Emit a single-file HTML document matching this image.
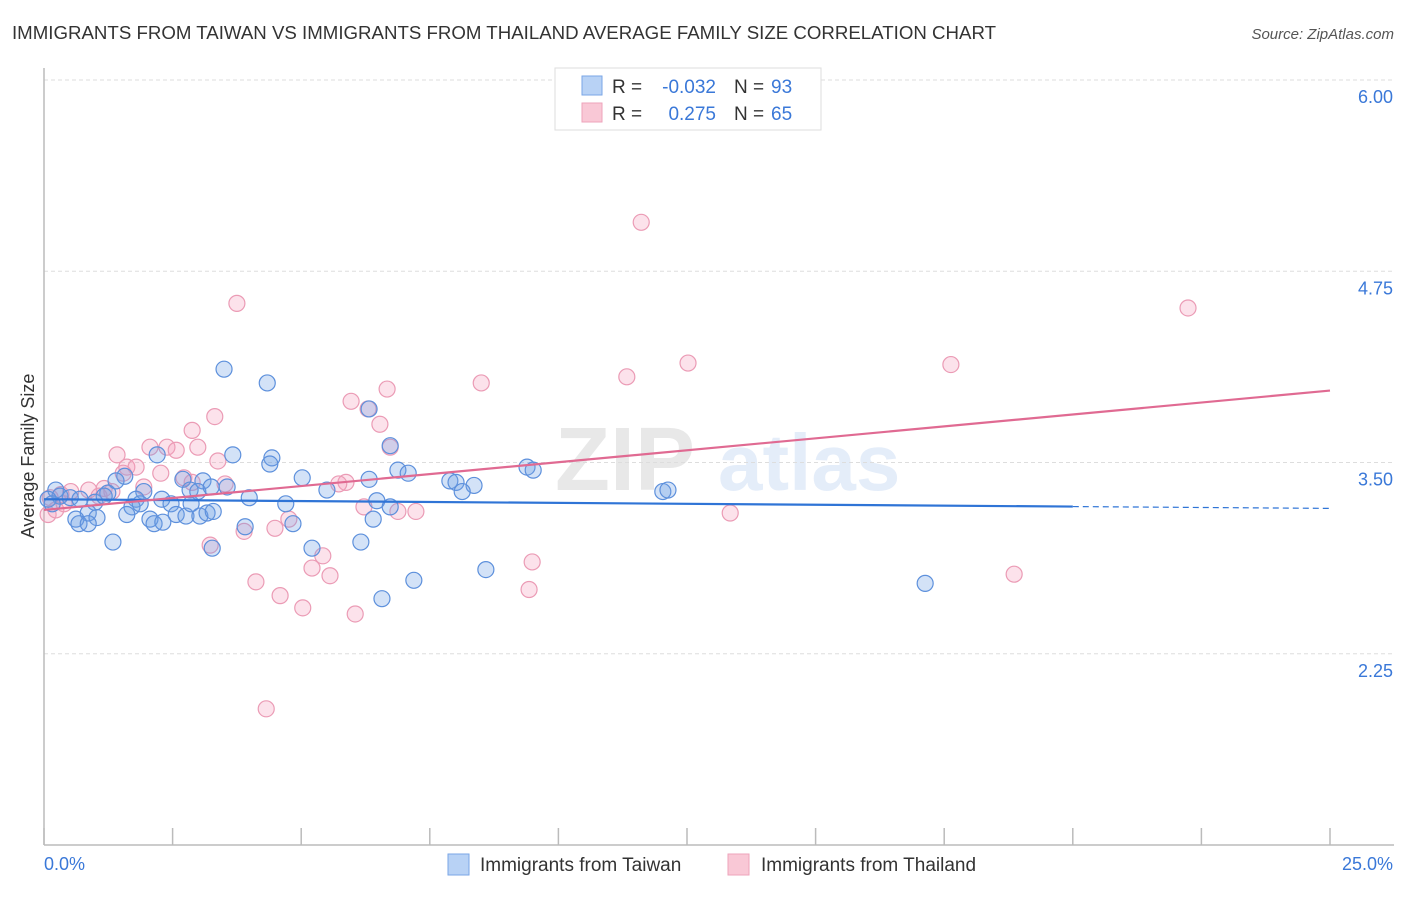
<!DOCTYPE html>
<html><head><meta charset="utf-8"><style>
body{margin:0;background:#fff;font-family:"Liberation Sans",sans-serif;}
svg text{font-family:"Liberation Sans",sans-serif;}
</style></head><body>
<svg id="chart" width="1406" height="892" viewBox="0 0 1406 892">
<text x="12" y="39" font-size="18" fill="#333" textLength="984" lengthAdjust="spacingAndGlyphs">IMMIGRANTS FROM TAIWAN VS IMMIGRANTS FROM THAILAND AVERAGE FAMILY SIZE CORRELATION CHART</text>
<text x="1394" y="39" font-size="15" fill="#555" text-anchor="end" font-style="italic">Source: ZipAtlas.com</text>
<g opacity="0.13">
<text x="555" y="490" font-size="90" font-family="Liberation Serif" fill="#555" font-weight="bold">ZIP</text>
<text x="718" y="490" font-size="80" fill="#3a78d8" font-weight="bold">atlas</text>
</g>
<g id="grid"></g>
<line x1="44" y1="68" x2="44" y2="845" stroke="#bbb" stroke-width="1.5"/>
<line x1="44" y1="845" x2="1394" y2="845" stroke="#bbb" stroke-width="1.5"/>
<g id="xticks"></g>
<text transform="translate(34,456) rotate(-90)" font-size="18" fill="#333" text-anchor="middle">Average Family Size</text>
<text x="44" y="870" font-size="18" fill="#3a78d8">0.0%</text>
<text x="1393" y="870" font-size="18" fill="#3a78d8" text-anchor="end">25.0%</text>
<g id="pts"></g>
<g id="lines"></g>
<g>
<rect x="555" y="68" width="266" height="62" fill="#fff" stroke="#ddd"/>
<rect x="582" y="76" width="20" height="19" fill="#b8d2f5" stroke="#7aa6e6"/>
<rect x="582" y="103" width="20" height="19" fill="#f9c8d6" stroke="#eea3bb"/>
<text x="612" y="93" font-size="19" fill="#333">R =</text>
<text x="716" y="93" font-size="19" fill="#3a78d8" text-anchor="end">-0.032</text>
<text x="734" y="93" font-size="19" fill="#333">N =</text>
<text x="771" y="93" font-size="19" fill="#3a78d8">93</text>
<text x="612" y="120" font-size="19" fill="#333">R =</text>
<text x="716" y="120" font-size="19" fill="#3a78d8" text-anchor="end">0.275</text>
<text x="734" y="120" font-size="19" fill="#333">N =</text>
<text x="771" y="120" font-size="19" fill="#3a78d8">65</text>
</g>
<g>
<rect x="448" y="854" width="21" height="21" fill="#b8d2f5" stroke="#7aa6e6"/>
<text x="480" y="871" font-size="19" fill="#333">Immigrants from Taiwan</text>
<rect x="728" y="854" width="21" height="21" fill="#f9c8d6" stroke="#eea3bb"/>
<text x="761" y="871" font-size="19" fill="#333">Immigrants from Thailand</text>
</g>
</svg>
<script>
const yTicks=[6.00,4.75,3.50,2.25];
const yTickLabels=["6.00","4.75","3.50","2.25"];
const xTicks=[0,2.5,5,7.5,10,12.5,15,17.5,20,22.5,25];
const taiwanX=[3.50,4.34,6.32,6.73,3.67,4.43,4.39,2.20,9.39,9.51,6.88,7.08,5.02,6.32,7.89,8.01,8.36,8.13,3.09,2.70,1.57,1.40,1.94,5.50,12.03,12.13,3.56,3.99,4.70,6.47,6.73,0.23,0.31,0.08,0.16,0.51,0.70,0.99,0.86,1.03,0.62,0.68,0.86,1.24,1.17,1.79,1.71,1.61,1.87,2.06,2.14,2.31,2.29,2.47,2.57,2.76,2.86,3.03,3.17,3.29,2.84,2.99,3.25,3.91,4.84,6.40,1.34,3.27,5.21,6.16,7.19,8.59,6.57,17.13];
const taiwanY=[4.11,4.02,3.85,3.61,3.55,3.53,3.49,3.55,3.47,3.45,3.45,3.43,3.40,3.39,3.38,3.37,3.35,3.31,3.38,3.39,3.41,3.38,3.31,3.32,3.31,3.32,3.34,3.27,3.23,3.25,3.21,3.32,3.28,3.26,3.23,3.27,3.26,3.24,3.17,3.14,3.13,3.10,3.10,3.30,3.28,3.26,3.21,3.16,3.23,3.13,3.10,3.11,3.26,3.23,3.16,3.15,3.23,3.15,3.17,3.18,3.32,3.31,3.34,3.08,3.10,3.13,2.98,2.94,2.94,2.98,2.73,2.80,2.61,2.71];
const thaiX=[11.61,22.24,3.75,12.52,17.63,11.33,8.50,6.67,5.97,6.30,3.32,6.53,2.88,1.42,2.06,2.39,2.99,2.57,6.73,1.61,1.79,2.27,1.54,3.38,2.72,2.88,5.87,5.73,3.52,1.17,0.87,0.52,0.33,0.12,0.08,0.23,0.39,1.07,1.32,1.94,6.22,6.88,7.23,13.34,4.76,3.89,4.49,3.23,5.42,5.21,5.56,9.49,4.12,4.59,18.86,9.43,5.03,6.05,4.32];
const thaiY=[5.07,4.51,4.54,4.15,4.14,4.06,4.02,3.98,3.90,3.85,3.80,3.75,3.71,3.55,3.60,3.60,3.60,3.58,3.60,3.47,3.47,3.43,3.43,3.51,3.40,3.37,3.37,3.36,3.36,3.33,3.32,3.31,3.29,3.27,3.16,3.19,3.23,3.28,3.31,3.34,3.21,3.18,3.18,3.17,3.13,3.05,3.07,2.96,2.89,2.81,2.76,2.85,2.72,2.63,2.77,2.67,2.55,2.51,1.89];
const taiwanTrend=[3.26,3.20];
const thaiTrend=[3.19,3.97];
const NS='http://www.w3.org/2000/svg';
const X=v=>44+v*(1286/25);
const Y=v=>80+(6-v)*153;
function mk(tag,attrs,parent){const e=document.createElementNS(NS,tag);for(const k in attrs)e.setAttribute(k,attrs[k]);parent.appendChild(e);return e;}
const grid=document.getElementById('grid');
yTicks.forEach((t,i)=>{
 const l=mk('line',{x1:44,x2:1394,y1:Y(t),y2:Y(t),stroke:'#ddd','stroke-dasharray':'4,3'},grid);
 
 
 const tx=mk('text',{x:1393,y:Y(t)+23,'font-size':18,fill:'#3a78d8','text-anchor':'end'},grid);
 tx.textContent=yTickLabels[i];
 
 
});
const xt=document.getElementById('xticks');
xTicks.forEach(t=>{
 const l=mk('line',{x1:X(t),x2:X(t),y1:828,y2:845,stroke:'#bbb','stroke-width':1.5},xt);
 
 
});
const pts=document.getElementById('pts');
thaiX.forEach((x,i)=>{
 const c=mk('circle',{cx:X(x),cy:Y(thaiY[i]),r:8,fill:'rgba(244,160,188,0.3)',stroke:'#eb9bb5','stroke-width':1.2},pts);
 
 
});
taiwanX.forEach((x,i)=>{
 const c=mk('circle',{cx:X(x),cy:Y(taiwanY[i]),r:8,fill:'rgba(110,160,230,0.3)',stroke:'#5d90dc','stroke-width':1.2},pts);
 
 
});
const lines=document.getElementById('lines');
const tv=x=>taiwanTrend[0]+(taiwanTrend[1]-taiwanTrend[0])*x/25;
let a=mk('line',{x1:X(0),y1:Y(tv(0)),x2:X(20),y2:Y(tv(20)),stroke:'#2f74d6','stroke-width':2.2},lines);


let b=mk('line',{x1:X(20),y1:Y(tv(20)),x2:X(25),y2:Y(tv(25)),stroke:'#2f74d6','stroke-width':1.2,'stroke-dasharray':'6,4'},lines);


let c=mk('line',{x1:X(0),y1:Y(thaiTrend[0]),x2:X(25),y2:Y(thaiTrend[1]),stroke:'#e06a92','stroke-width':2.2},lines);


</script>
</body></html>
